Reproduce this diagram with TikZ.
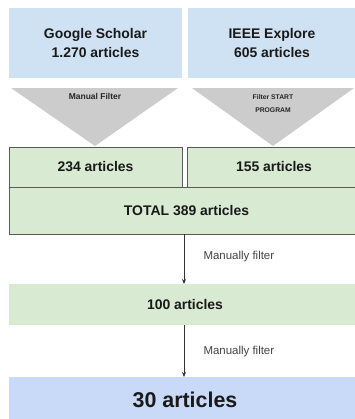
\documentclass[tikz,border=0pt]{standalone}
\usepackage{fontspec}
\setmainfont{Liberation Sans}
\usetikzlibrary{arrows.meta}
\definecolor{topblue}{HTML}{CFE2F3}
\definecolor{endblue}{HTML}{C9DAF8}
\definecolor{lgreen}{HTML}{D9EAD3}
\definecolor{tgray}{HTML}{CCCCCC}
\definecolor{edgegray}{HTML}{595959}
\definecolor{txtgray}{HTML}{434343}
\begin{document}
\begin{tikzpicture}[x=1bp,y=-1bp,
  box/.style={inner sep=0pt, outer sep=0pt, anchor=north west, align=center},
  srcbox/.style={box, fill=topblue, font=\bfseries\fontsize{14}{19}\selectfont, text=black!90},
  gbox/.style={box, fill=lgreen, draw=edgegray, line width=0.9pt, font=\bfseries\fontsize{14}{17}\selectfont, text=black!90},
  pbox/.style={box, fill=lgreen, font=\bfseries\fontsize{14}{17}\selectfont, text=black!90},
  fbox/.style={box, fill=endblue, font=\bfseries\fontsize{21.5}{25}\selectfont, text=black!90},
  tri/.style={fill=tgray},
  flow/.style={draw=black!80, line width=0.8pt, -{Stealth[length=5pt,width=4pt]}},
  lbl/.style={font=\fontsize{11.5}{13}\selectfont, text=txtgray, anchor=west}
]
\useasboundingbox (0,0) rectangle (355,419);
\clip (0,0) rectangle (355,419);
\fill[white] (0,0) rectangle (355,419);

% source boxes
\node[srcbox, minimum width=173bp, minimum height=70bp] (gs) at (9,8) {Google Scholar\\1.270 articles};
\node[srcbox, minimum width=168bp, minimum height=70bp] (ieee) at (188,8) {IEEE Explore\\605 articles};
\fill[topblue] (ieee.north east) rectangle (ieee.south east -| 380,0);

% filter triangles
\path[tri] (11,88) -- (178,88) -- (95,146) -- cycle;
\path[tri] (192,88) -- (354,88) -- (273,146) -- cycle;
\node[font=\bfseries\fontsize{8.5}{10}\selectfont, text=black!85] (mf) at (95,96.5) {Manual Filter};
\node[font=\bfseries\fontsize{6.8}{12.5}\selectfont, text=black!85, align=center] (fsp) at (273,103.5) {Filter START\\PROGRAM};

% result boxes
\node[gbox, minimum width=173bp, minimum height=40bp] (a234) at (9,147) {234 articles};
\node[gbox, minimum width=174bp, minimum height=40bp] (a155) at (187,147) {155 articles};
\node[gbox, minimum width=355bp, minimum height=47bp] (total) at (9,187) {TOTAL 389 articles};

\coordinate (t1) at (184,234);
\node[pbox, minimum width=352bp, minimum height=41bp] (h100) at (9,284) {100 articles};
\node[fbox, minimum width=352bp, minimum height=45bp] (a30) at (9,377) {30 articles};

\draw[flow] (total.south -| t1) -- (h100.north -| t1);
\draw[flow] (h100.south -| t1) -- (a30.north -| t1);
\node[lbl] (l1) at (200,257) {Manually filter};
\node[lbl] (l2) at (200,352) {Manually filter};
\end{tikzpicture}
\end{document}
